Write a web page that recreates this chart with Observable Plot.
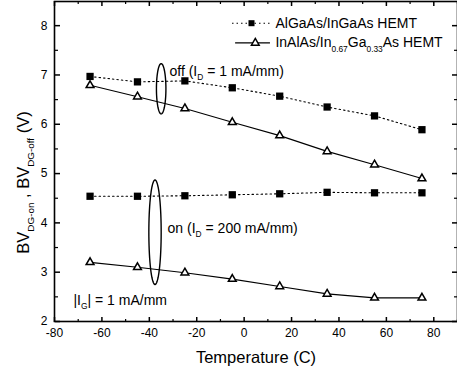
<!DOCTYPE html>
<html><head><meta charset="utf-8">
<script src="https://cdn.jsdelivr.net/npm/d3@7"></script>
<script src="https://cdn.jsdelivr.net/npm/@observablehq/plot@0.6"></script>
<style>
body{margin:0;background:#fff}
#chart svg{font-family:"Liberation Sans",Arial,sans-serif;background:#fff;overflow:hidden}
</style>
</head><body><div id="chart"></div>
<script>
// ---- data ----
const temps = [-65, -45, -25, -5, 15, 35, 55, 75];
const offAlGaAs = [6.97, 6.86, 6.88, 6.74, 6.57, 6.35, 6.17, 5.89];
const offInAlAs = [6.79, 6.56, 6.32, 6.04, 5.77, 5.45, 5.18, 4.90];
const onAlGaAs  = [4.54, 4.54, 4.55, 4.57, 4.59, 4.62, 4.61, 4.61];
const onInAlAs  = [3.20, 3.10, 2.99, 2.86, 2.71, 2.56, 2.48, 2.48];
const xTicks = [-80, -60, -40, -20, 0, 20, 40, 60, 80];
const xMinor = [-70, -50, -30, -10, 10, 30, 50, 70, 90];
const yTicks = [2, 3, 4, 5, 6, 7, 8];
const yMinor = [2.5, 3.5, 4.5, 5.5, 6.5, 7.5];
const seriesNames = ["AlGaAs/InGaAs HEMT", "InAlAs/In_{0.67}Ga_{0.33}As HEMT"];
// annotations (data coordinates)
const notes = [
  {x: -31.5, y: 7.08, text: "off (I_{D} = 1 mA/mm)"},
  {x: -32.3, y: 3.88, text: "on (I_{D} = 200 mA/mm)"},
  {x: -72,   y: 2.43, text: "|I_{G}| = 1 mA/mm"}
];
const ellipses = [
  {id: "off", cx: -35, cy: 6.72, rx: 2.0, ry: 0.51},
  {id: "on",  cx: -37.6, cy: 3.81, rx: 2.6, ry: 1.06}
];
// legend placement (data coordinates)
const legendRows = [
  {name: seriesNames[0], y: 8.05, x1: -4.9, x2: 11.1, xm: 3.1, tx: 13.2, symbol: "square", dash: "1.5,3"},
  {name: seriesNames[1], y: 7.65, x1: -3.6, x2: 11.1, xm: 4.7, tx: 13.2, symbol: "triangle", dash: null}
];

const sq = (ys) => temps.map((t, i) => ({t, v: ys[i]}));
const ellPts = [];
for (const e of ellipses) {
  for (let k = 0; k <= 72; k++) {
    const a = (k / 72) * 2 * Math.PI;
    ellPts.push({id: e.id, x: e.cx + e.rx * Math.cos(a), y: e.cy + e.ry * Math.sin(a)});
  }
}

const SQ_R = 4.1, TRI_R = 2.9;
const fmt = d => String(d);
const plot = Plot.plot({
  width: 457,
  height: 374,
  marginLeft: 54,
  marginRight: 0,
  marginTop: 1,
  marginBottom: 53,
  style: {fontSize: "12px", fontFamily: "Liberation Sans, Arial, sans-serif", color: "#000"},
  x: {domain: [-80, 90], axis: null},
  y: {domain: [2, 8.49], axis: null},
  marks: [
    Plot.frame({stroke: "#000", strokeWidth: 1.6}),
    // inward ticks: bottom, top, left, right
    Plot.axisX(xTicks, {anchor: "top", frameAnchor: "bottom", tickSize: 5, fill: null, label: null, strokeWidth: 1.5}),
    Plot.axisX(xMinor, {anchor: "top", frameAnchor: "bottom", tickSize: 3, fill: null, label: null, strokeWidth: 1.2}),
    Plot.axisX(xTicks, {anchor: "bottom", frameAnchor: "top", tickSize: 5, fill: null, label: null, strokeWidth: 1.5}),
    Plot.axisX(xMinor, {anchor: "bottom", frameAnchor: "top", tickSize: 3, fill: null, label: null, strokeWidth: 1.2}),
    Plot.axisY(yTicks, {anchor: "right", frameAnchor: "left", tickSize: 5, fill: null, label: null, strokeWidth: 1.5}),
    Plot.axisY(yMinor, {anchor: "right", frameAnchor: "left", tickSize: 3, fill: null, label: null, strokeWidth: 1.2}),
    Plot.axisY(yTicks, {anchor: "left", frameAnchor: "right", tickSize: 5, fill: null, label: null, strokeWidth: 1.5}),
    Plot.axisY(yMinor, {anchor: "left", frameAnchor: "right", tickSize: 3, fill: null, label: null, strokeWidth: 1.2}),
    // tick labels
    Plot.axisX(xTicks, {anchor: "bottom", tickSize: 0, tickPadding: 7, tickFormat: fmt, label: null, fontSize: 12}),
    Plot.axisY(yTicks, {anchor: "left", tickSize: 0, tickPadding: 7, tickFormat: fmt, label: null, fontSize: 12}),
    // axis titles
    Plot.text(["Temperature (C)"], {frameAnchor: "bottom", dy: 36, fontSize: 16.5, lineAnchor: "middle"}),
    Plot.text(["BV_{DG-on} , BV_{DG-off} (V)"], {frameAnchor: "left", dx: -31, dy: 21, rotate: -90, fontSize: 16.5, textAnchor: "middle", lineAnchor: "middle"}),
    // lines
    Plot.line(sq(offAlGaAs), {x: "t", y: "v", stroke: "#000", strokeWidth: 1.1, strokeDasharray: "1.5,3"}),
    Plot.line(sq(onAlGaAs),  {x: "t", y: "v", stroke: "#000", strokeWidth: 1.1, strokeDasharray: "1.5,3"}),
    Plot.line(sq(offInAlAs), {x: "t", y: "v", stroke: "#000", strokeWidth: 1.1}),
    Plot.line(sq(onInAlAs),  {x: "t", y: "v", stroke: "#000", strokeWidth: 1.1}),
    // markers
    Plot.dot(sq(offAlGaAs), {x: "t", y: "v", symbol: "square", r: SQ_R, fill: "#000", stroke: "none"}),
    Plot.dot(sq(onAlGaAs),  {x: "t", y: "v", symbol: "square", r: SQ_R, fill: "#000", stroke: "none"}),
    Plot.dot(sq(offInAlAs), {x: "t", y: "v", symbol: "triangle", r: TRI_R, fill: "#fff", stroke: "#000", strokeWidth: 1.5}),
    Plot.dot(sq(onInAlAs),  {x: "t", y: "v", symbol: "triangle", r: TRI_R, fill: "#fff", stroke: "#000", strokeWidth: 1.5}),
    // ellipses
    Plot.line(ellPts, {x: "x", y: "y", z: "id", stroke: "#000", strokeWidth: 1.4}),
    // annotations
    Plot.text(notes, {x: "x", y: "y", text: "text", textAnchor: "start", fontSize: 14, fill: "#000"}),
    // legend
    ...legendRows.map(r => Plot.ruleY([r.y], {x1: r.x1, x2: r.x2, stroke: "#000", strokeWidth: 1.1, strokeDasharray: r.dash})),
    Plot.dot(legendRows, {x: "xm", y: "y", symbol: "symbol", r: d => d.symbol === "square" ? SQ_R : TRI_R,
      fill: d => d.symbol === "square" ? "#000" : "#fff", stroke: "#000", strokeWidth: d => d.symbol === "square" ? 0 : 1.5}),
    Plot.text(legendRows, {x: "tx", y: "y", text: "name", textAnchor: "start", fontSize: 14, fill: "#000"})
  ]
});

// convert _{...} into subscript tspans
function subscriptify(svg) {
  svg.querySelectorAll("text").forEach(t => {
    const s = t.textContent;
    if (!s.includes("_{")) return;
    let fs = 12;
    for (let n = t; n && n.getAttribute; n = n.parentNode) {
      const a = n.getAttribute("font-size");
      if (a) { fs = parseFloat(a); break; }
    }
    while (t.firstChild) t.removeChild(t.firstChild);
    const parts = s.split(/(_\{[^}]*\})/);
    let shifted = false;
    const sh = fs * 0.3;
    for (const p of parts) {
      if (!p) continue;
      const ts = document.createElementNS("http://www.w3.org/2000/svg", "tspan");
      if (p.startsWith("_{")) {
        ts.textContent = p.slice(2, -1);
        ts.setAttribute("font-size", (fs * 0.6).toFixed(1));
        ts.setAttribute("dy", sh.toFixed(1));
        shifted = true;
      } else {
        ts.textContent = p;
        if (shifted) { ts.setAttribute("dy", (-sh).toFixed(1)); shifted = false; }
      }
      t.appendChild(ts);
    }
  });
}
subscriptify(plot);
document.getElementById("chart").appendChild(plot);
</script>
</body></html>
